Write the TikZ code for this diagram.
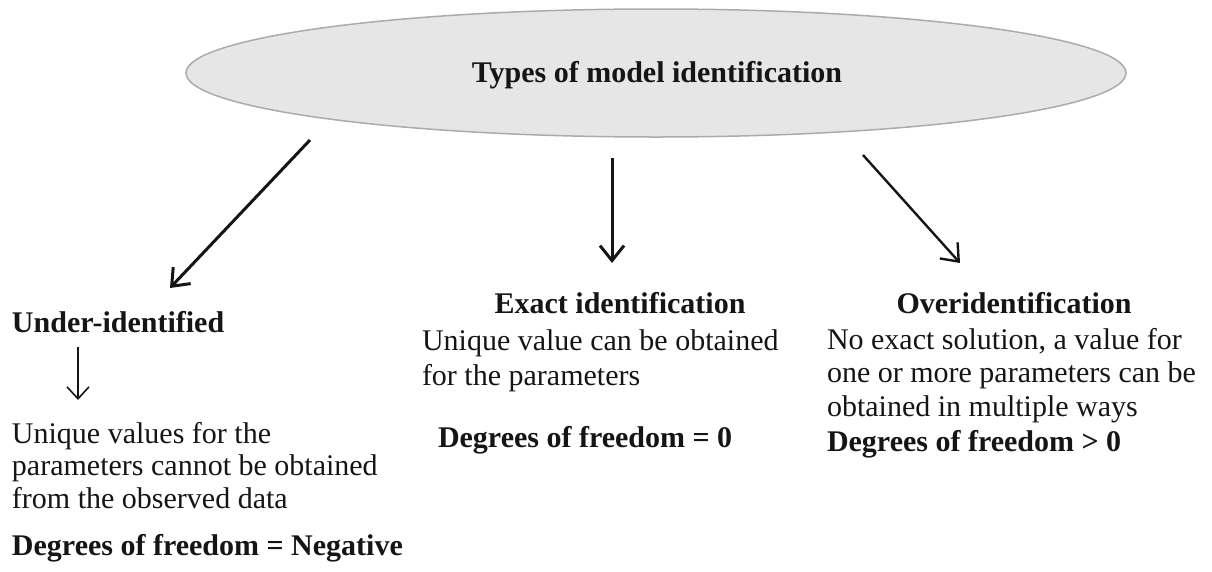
\documentclass[tikz,border=0pt]{standalone}
\usepackage{fontspec}
\setmainfont{Liberation Serif}
\usetikzlibrary{arrows.meta,shapes.geometric}

\definecolor{ovalfill}{HTML}{E6E6E6}
\definecolor{ovaldraw}{HTML}{ABABAB}
\definecolor{ink}{HTML}{151515}

\tikzset{
  txt/.style={inner sep=0pt, outer sep=0pt, text=ink,
    font=\fontsize{30}{33}\selectfont},
  head/.style={txt, font=\fontsize{30}{33}\selectfont\bfseries},
  body/.style={txt, align=left},
  bigarrow/.style={draw=ink, line width=3pt,
    -{Straight Barb[length=15pt,width=24pt,line width=3pt]}},
  thinarrow/.style={draw=ink, line width=2.4pt,
    -{Straight Barb[length=15pt,width=24pt,line width=2.4pt]}},
  smallarrow/.style={draw=ink, line width=1.6pt,
    -{Straight Barb[length=12pt,width=22pt,line width=1.6pt]}}
}

\begin{document}
\begin{tikzpicture}[x=1pt,y=-1pt]
  \useasboundingbox (0,0) rectangle (1212,571);

  % top oval with the title
  \node[ellipse, draw=ovaldraw, fill=ovalfill, line width=1.5pt,
        minimum width=940pt, minimum height=128pt, inner sep=0pt]
        (oval) at (656,73) {};
  \node[head] (title) at (657,75) {Types of model identification};

  % free ends of the three branches
  \coordinate (l0) at (310,140);
  \coordinate (l1) at (170,288);
  \coordinate (m0) at (612,158);
  \coordinate (m1) at (612,263);
  \coordinate (r0) at (863,155);
  \coordinate (r1) at (960,263);
  \draw[bigarrow]  (l0) -- (l1);
  \draw[bigarrow]  (m0) -- (m1);
  \draw[thinarrow] (r0) -- (r1);

  % left branch (multi-line nodes sit on the baseline of their last line)
  \node[head, anchor=base west] (under) at (12,332) {Under-identified};
  \coordinate (u0) at (78,347);
  \coordinate (u1) at (78,400);
  \draw[smallarrow] (u0) -- (u1);
  \node[body, anchor=base west, font=\fontsize{30}{32.5}\selectfont]
        (underTxt) at (12,508)
        {Unique values for the\\parameters cannot be obtained\\from the observed data};
  \node[head, anchor=base west] (underDf) at (12,555)
        {Degrees of freedom = Negative};

  % middle branch
  \node[head, anchor=base] (exact) at (620,313) {Exact identification};
  \node[body, anchor=base west, font=\fontsize{30}{35}\selectfont]
        (exactTxt) at (422,385)
        {Unique value can be obtained\\for the parameters};
  \node[head, anchor=base west] (exactDf) at (438,447)
        {Degrees of freedom = 0};

  % right branch
  \node[head, anchor=base] (over) at (1014,313) {Overidentification};
  \node[body, anchor=base west, font=\fontsize{30}{33.5}\selectfont]
        (overTxt) at (827,416)
        {No exact solution, a value for\\one or more parameters can be\\obtained in multiple ways};
  \node[head, anchor=base west] (overDf) at (827,451)
        {Degrees of freedom > 0};
\end{tikzpicture}
\end{document}
